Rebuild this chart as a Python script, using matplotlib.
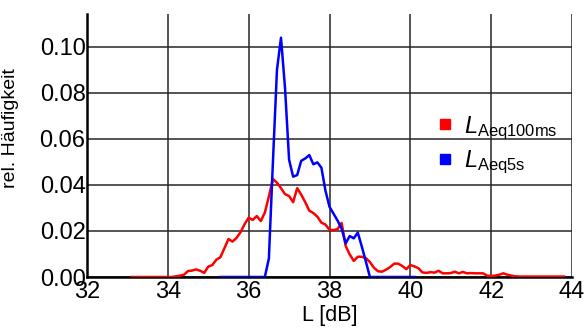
import numpy as np
import matplotlib
matplotlib.use('Agg')
import matplotlib.pyplot as plt
from matplotlib.lines import Line2D

plt.rcParams['font.family'] = ['Liberation Sans', 'DejaVu Sans']
plt.rcParams['mathtext.fontset'] = 'custom'
plt.rcParams['mathtext.rm'] = 'Liberation Sans'
plt.rcParams['mathtext.it'] = 'Liberation Sans:italic'

# level classes (dB), step 0.1
x_red = np.round(np.arange(33.1, 43.85, 0.1), 1)
y_red = [0, 0, 0, 0, 0, 0, 0, 0, 0, 0, 0,
         0.0003, 0.0006, 0.001, 0.0026, 0.0028, 0.0033, 0.0027, 0.0018, 0.0045, 0.0052,
         0.0075, 0.0086, 0.0125, 0.0165, 0.0154, 0.017, 0.0195, 0.023, 0.0258, 0.0248,
         0.0265, 0.0243, 0.028, 0.035, 0.0426, 0.041, 0.0386, 0.036, 0.0352, 0.0325,
         0.0386, 0.0358, 0.0325, 0.0288, 0.0278, 0.0262, 0.0236, 0.0228, 0.0205, 0.0204,
         0.0208, 0.0235, 0.0135, 0.0098, 0.007, 0.0088, 0.0088, 0.0082, 0.0065, 0.004,
         0.0025, 0.0023, 0.0032, 0.0043, 0.0058, 0.0058, 0.0048, 0.0034, 0.0052, 0.0046,
         0.0038, 0.002, 0.0018, 0.0021, 0.0019, 0.0027, 0.0016, 0.0016, 0.0017, 0.0023,
         0.0016, 0.0022, 0.0016, 0.0017, 0.0016, 0.0016, 0.0016, 0.0006, 0.0004, 0.0006,
         0.001, 0.0016, 0.001, 0.0006, 0.0003,
         0.0002, 0.0002, 0.0002, 0.0002, 0.0002, 0.0002, 0.0002, 0.0002, 0.0002, 0.0002,
         0.0002, 0.0002]

x_blue = np.round(np.arange(35.3, 40.15, 0.1), 1)
y_blue = [0, 0, 0, 0, 0, 0, 0, 0, 0, 0, 0, 0,
          0.008, 0.05, 0.09, 0.104, 0.082, 0.051, 0.0436, 0.0443, 0.0505, 0.0515,
          0.053, 0.049, 0.0498, 0.0475, 0.0375, 0.0305, 0.0275, 0.0245, 0.021, 0.0146,
          0.0178, 0.0168, 0.0193, 0.0132, 0.0067,
          0, 0, 0, 0, 0, 0, 0, 0, 0, 0, 0, 0]

xticks = [32, 34, 36, 38, 40, 42, 44]
yticks = [0.0, 0.02, 0.04, 0.06, 0.08, 0.10]

fig = plt.figure(figsize=(5.87, 3.32), dpi=100)
ax = fig.add_axes([87/587, 55/332, 485/587, 263/332])

ax.plot(x_red, y_red, color='#ff0000', lw=1.8, zorder=3)
ax.plot(x_blue, y_blue, color='#0000ff', lw=1.8, zorder=4)

ax.set_xlim(32, 44)
ax.set_ylim(0, 0.1143)
ax.set_xticks(xticks)
ax.set_yticks(yticks)
ax.set_yticklabels(['%.2f' % v for v in yticks])
ax.tick_params(length=0, labelsize=17, pad=1)
ax.tick_params(axis='x', pad=3)

ax.grid(True, color='#262626', lw=1.1)
ax.set_axisbelow(True)
for s in ['top', 'right']:
    ax.spines[s].set_visible(False)
for s in ['left', 'bottom']:
    ax.spines[s].set_linewidth(1.8)
    ax.spines[s].set_color('black')

ax.set_xlabel('L [dB]', fontsize=15.5, labelpad=1)
ax.set_ylabel('rel. Häufigkeit', fontsize=14)
ax.yaxis.set_label_coords(-0.14, 0.567)

handles = [Line2D([], [], ls='none', marker='s', ms=7.5, color='#ff0000'),
           Line2D([], [], ls='none', marker='s', ms=7.5, color='#0000ff')]
labels = [r'$L_{\mathrm{Aeq100ms}}$', r'$L_{\mathrm{Aeq5s}}$']
ax.legend(handles, labels, loc='upper left', bbox_to_anchor=(0.7, 0.655),
          frameon=False, fontsize=17, handlelength=0.8, handletextpad=0.4,
          labelspacing=0.3, borderaxespad=0)

fig.savefig('out.png', dpi=100)
